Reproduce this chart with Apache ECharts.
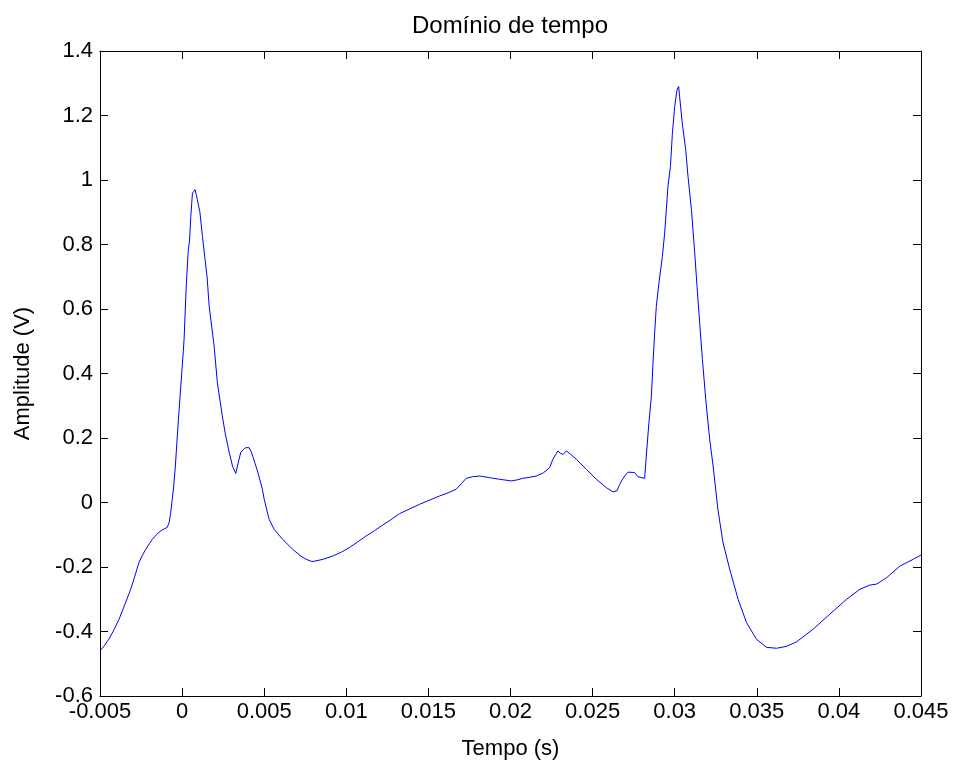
<!DOCTYPE html>
<html>
<head>
<meta charset="utf-8">
<script src="https://cdn.jsdelivr.net/npm/echarts@6/dist/echarts.min.js"></script>
<style>html,body{margin:0;padding:0;background:#fff}#c{width:956px;height:765px}</style>
</head>
<body>
<div id="c"></div>
<script>
const timeS = [
-0.0050,-0.00475,-0.00445,-0.00415,-0.00384,-0.00350,-0.00313,-0.00290,-0.00262,-0.00240,
-0.00221,-0.00200,-0.00181,-0.00155,-0.00130,-0.00110,-0.00090,-0.00078,-0.00069,-0.00060,
-0.00052,-0.00041,-0.00030,-0.00018,-0.00002,0.00012,0.00026,0.00038,0.00045,0.00053,
0.00063,0.00072,0.00079,0.00086,0.00093,0.00108,0.00124,0.00140,0.00152,0.00165,
0.00195,0.00215,0.00242,0.00262,0.00287,0.00307,0.00327,0.00337,0.00357,0.00375,
0.00388,0.00408,0.00420,0.00433,0.00459,0.00489,0.00500,0.00530,0.00560,0.00612,
0.00673,0.00720,0.00755,0.00790,0.00815,0.00860,0.00917,0.00970,0.01018,0.01070,
0.01120,0.01170,0.01221,0.01270,0.01323,0.01385,0.01445,0.01505,0.01567,0.01620,
0.01669,0.01700,0.01730,0.01770,0.01811,0.01840,0.01872,0.01933,0.02005,0.02040,
0.02074,0.02115,0.02157,0.02200,0.02238,0.02258,0.02289,0.02305,0.02320,0.02340,
0.02370,0.02401,0.02462,0.02523,0.02584,0.02624,0.02648,0.02665,0.02680,0.02695,
0.02715,0.02756,0.02776,0.02817,0.02827,0.02843,0.02858,0.02868,0.02878,0.02888,
0.02904,0.02925,0.02939,0.02959,0.02974,0.02986,0.03000,0.03014,0.03024,0.03030,
0.03046,0.03067,0.03081,0.03102,0.03122,0.03136,0.03152,0.03169,0.03189,0.03213,
0.03234,0.03263,0.03294,0.03335,0.03386,0.03437,0.03498,0.03559,0.03620,0.03681,
0.03742,0.03843,0.03945,0.04047,0.04128,0.04189,0.04230,0.04291,0.04372,0.04453,
0.04500
];
const amplitudeV = [
-0.460,-0.445,-0.423,-0.395,-0.362,-0.318,-0.269,-0.232,-0.185,-0.162,
-0.145,-0.128,-0.114,-0.099,-0.088,-0.082,-0.077,-0.060,-0.030,0.010,
0.045,0.113,0.200,0.289,0.402,0.505,0.681,0.784,0.810,0.887,
0.959,0.965,0.970,0.955,0.939,0.902,0.825,0.753,0.700,0.608,
0.485,0.371,0.278,0.216,0.155,0.113,0.090,0.113,0.155,0.165,
0.170,0.170,0.158,0.139,0.098,0.041,0.010,-0.052,-0.083,-0.114,
-0.145,-0.165,-0.176,-0.183,-0.181,-0.176,-0.166,-0.154,-0.140,-0.122,
-0.104,-0.088,-0.070,-0.054,-0.035,-0.020,-0.006,0.007,0.020,0.030,
0.041,0.058,0.075,0.080,0.082,0.080,0.077,0.072,0.067,0.070,
0.075,0.078,0.082,0.092,0.108,0.134,0.160,0.152,0.149,0.160,
0.148,0.134,0.103,0.072,0.046,0.033,0.036,0.056,0.070,0.082,
0.094,0.093,0.080,0.075,0.144,0.247,0.330,0.433,0.526,0.608,
0.681,0.763,0.836,0.980,1.042,1.145,1.228,1.279,1.290,1.258,
1.176,1.094,1.011,0.908,0.774,0.670,0.557,0.443,0.320,0.196,
0.113,-0.021,-0.124,-0.207,-0.300,-0.372,-0.424,-0.449,-0.452,-0.446,
-0.432,-0.393,-0.346,-0.300,-0.269,-0.256,-0.253,-0.233,-0.197,-0.176,
-0.163
];
const xTicks = {min: -0.005, max: 0.045, step: 0.005};
const yTicks = {min: -0.6, max: 1.4, step: 0.2};

const font = 'Liberation Sans, Arial, Helvetica, sans-serif';
const fs = 22;
const pts = timeS.map((t, i) => [t, amplitudeV[i]]);
const chart = echarts.init(document.getElementById('c'), null, {renderer: 'canvas'});
const lineStyle = {color: '#000', width: 1};
const tickStyle = {show: true, inside: true, length: 8, lineStyle: {color: '#000', width: 1}};
function fmt(v){ return String(parseFloat(v.toFixed(6))); }
chart.setOption({
  animation: false,
  backgroundColor: '#fff',
  title: {
    text: 'Domínio de tempo',
    left: 505, top: 9, textAlign: 'center',
    textStyle: {fontFamily: font, fontSize: 24, fontWeight: 'normal', color: '#000'}
  },
  grid: {left: 100, top: 51, right: 35, bottom: 68, containLabel: false},
  xAxis: [{
    type: 'value', min: xTicks.min, max: xTicks.max, interval: xTicks.step,
    name: 'Tempo (s)', nameLocation: 'middle', nameGap: 42,
    nameTextStyle: {fontFamily: font, fontSize: fs, color: '#000'},
    axisLine: {show: true, onZero: false, lineStyle},
    axisTick: tickStyle,
    axisLabel: {fontFamily: font, fontSize: fs, color: '#000', margin: 5, formatter: fmt, showMinLabel: true, showMaxLabel: true},
    splitLine: {show: false}
  }, {
    type: 'value', position: 'top', min: xTicks.min, max: xTicks.max, interval: xTicks.step,
    axisLine: {show: true, onZero: false, lineStyle},
    axisTick: tickStyle, axisLabel: {show: false}, splitLine: {show: false}
  }],
  yAxis: [{
    type: 'value', min: yTicks.min, max: yTicks.max, interval: yTicks.step,
    name: 'Amplitude (V)', nameLocation: 'middle', nameGap: 66,
    nameTextStyle: {fontFamily: font, fontSize: fs, color: '#000'},
    axisLine: {show: true, onZero: false, lineStyle},
    axisTick: tickStyle,
    axisLabel: {fontFamily: font, fontSize: fs, color: '#000', margin: 7, formatter: fmt, showMinLabel: true, showMaxLabel: true},
    splitLine: {show: false}
  }, {
    type: 'value', position: 'right', min: yTicks.min, max: yTicks.max, interval: yTicks.step,
    axisLine: {show: true, onZero: false, lineStyle},
    axisTick: tickStyle, axisLabel: {show: false}, splitLine: {show: false}
  }],
  series: [{
    type: 'line', data: pts, xAxisIndex: 0, yAxisIndex: 0,
    showSymbol: false, symbol: 'none',
    lineStyle: {color: '#0000ff', width: 1}
  }]
});
</script>
</body>
</html>
